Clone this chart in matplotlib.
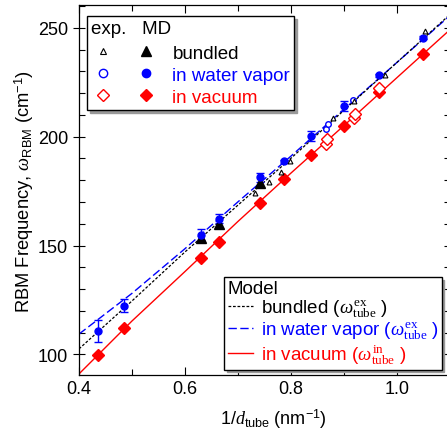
import matplotlib
matplotlib.use("Agg")
import matplotlib.pyplot as plt
from matplotlib.lines import Line2D
from matplotlib.legend_handler import HandlerTuple
from matplotlib.ticker import MultipleLocator

plt.rcParams['font.family'] = ['Liberation Sans', 'DejaVu Sans']
plt.rcParams['mathtext.fontset'] = 'custom'
plt.rcParams['mathtext.rm'] = 'Liberation Sans'
plt.rcParams['mathtext.it'] = 'Liberation Serif:italic'
plt.rcParams['mathtext.tt'] = 'Liberation Serif'

# ---- data ----
model_x = [0.40, 0.50, 0.60, 0.70, 0.80, 0.90, 1.00, 1.10]
model_bundled = [102.5, 124.5, 147.0, 168.5, 190.0, 212.0, 234.0, 256.0]
model_water = [109.3, 128.0, 148.5, 170.0, 191.0, 212.5, 234.0, 255.5]
model_vacuum = [91.0, 115.3, 138.0, 161.0, 183.2, 205.0, 227.0, 249.0]

md_x = [0.435, 0.485, 0.630, 0.664, 0.742, 0.788, 0.839, 0.900, 0.967, 1.050]
md_vacuum = [99.7, 112.1, 144.1, 151.7, 169.5, 180.5, 191.6, 205.1, 220.6, 237.9]
md_water = [110.8, 122.3, 154.9, 162.4, 181.3, 188.6, 200.2, 213.9, 228.2, 245.5]
md_water_err = [5.2, 3.0, 2.5, 2.0, 2.0, 0.8, 2.3, 2.3, 0.8, 0.8]

md_bundled_x = [0.630, 0.664, 0.742]
md_bundled = [153.3, 159.8, 178.5]

exp_bundled_x = [0.732, 0.759, 0.781, 0.798, 0.880, 0.920, 0.978, 1.053]
exp_bundled = [174.1, 179.0, 183.6, 188.9, 208.8, 216.6, 228.2, 248.6]
exp_water_x = [0.867, 0.871, 0.918, 0.966]
exp_water = [203.4, 205.7, 216.8, 228.5]
exp_vacuum_x = [0.866, 0.868, 0.919, 0.921, 0.967]
exp_vacuum = [196.5, 199.0, 208.6, 210.4, 222.3]

fig = plt.figure(figsize=(4.47, 4.31), dpi=100)
ax = fig.add_axes([79 / 447, 55 / 431, 370.6 / 447, 370 / 431])

# model curves
ax.plot(model_x, model_water, color='blue', lw=1.0, ls=(0, (6, 2.5)), zorder=2)
ax.plot(model_x, model_bundled, color='black', lw=0.9, ls=(0, (2.2, 1.4)), zorder=2)
ax.plot(model_x, model_vacuum, color='red', lw=1.0, ls='-', zorder=2)

# MD
ax.plot(md_x, md_vacuum, 'D', color='red', ms=6, zorder=3)
ax.errorbar(md_x, md_water, yerr=md_water_err, fmt='o', color='blue', ms=5,
            capsize=3, elinewidth=1, capthick=1, zorder=4)
ax.plot(md_bundled_x, md_bundled, '^', color='black', ms=6.5, zorder=4)

# experiments
ax.plot(exp_vacuum_x, exp_vacuum, 'D', mfc='white', mec='red', mew=1, ms=6, zorder=3)
ax.plot(exp_water_x, exp_water, 'o', mfc='white', mec='blue', mew=1, ms=4, zorder=4)
ax.plot(exp_bundled_x, exp_bundled, '^', mfc='white', mec='black', mew=0.8, ms=3.5, zorder=5)

ax.set_xlim(0.4, 1.1)
ax.set_ylim(90.5, 260.5)
ax.xaxis.set_major_locator(MultipleLocator(0.2))
ax.xaxis.set_minor_locator(MultipleLocator(0.1))
ax.yaxis.set_major_locator(MultipleLocator(50))
ax.yaxis.set_minor_locator(MultipleLocator(10))
ax.xaxis.set_major_formatter(matplotlib.ticker.FormatStrFormatter('%.1f'))
ax.tick_params(which='both', direction='in', top=True, right=True, labelsize=13)
ax.tick_params(which='major', length=6, width=0.8)
ax.tick_params(which='minor', length=4, width=0.8)
ax.tick_params(axis='y', which='major', direction='inout', length=9)
for s in ax.spines.values():
    s.set_linewidth(0.9)

ax.set_xlabel(r"1/$d_{\mathrm{tube}}$ (nm$^{-1}$)", fontsize=13)
ax.xaxis.set_label_coords(0.525, -0.086)
ax.set_ylabel(r"RBM Frequency, $\omega_{\mathrm{RBM}}$ (cm$^{-1}$)", fontsize=13.2, labelpad=1)

# legend 1
h_open_b = Line2D([], [], ls='none', marker='^', mfc='white', mec='black', mew=0.8, ms=4)
h_fill_b = Line2D([], [], ls='none', marker='^', color='black', ms=7)
h_open_w = Line2D([], [], ls='none', marker='o', mfc='white', mec='blue', mew=1, ms=6)
h_fill_w = Line2D([], [], ls='none', marker='o', color='blue', ms=6)
h_open_v = Line2D([], [], ls='none', marker='D', mfc='white', mec='red', mew=1, ms=6)
h_fill_v = Line2D([], [], ls='none', marker='D', color='red', ms=6)
leg1 = ax.legend([(h_open_b, h_fill_b), (h_open_w, h_fill_w), (h_open_v, h_fill_v)],
                 ['bundled', 'in water vapor', 'in vacuum'],
                 handler_map={tuple: HandlerTuple(ndivide=None, pad=0.9)},
                 loc='upper left', bbox_to_anchor=(0.0216, 0.970), borderaxespad=0,
                 fontsize=13.5, title='exp.   MD', title_fontsize=13.5, alignment='left',
                 handlelength=3.6, handletextpad=0.75, labelspacing=0.27, borderpad=0.2,
                 fancybox=False, edgecolor='black', framealpha=1,
                 shadow={'color': '0.6', 'alpha': 1})
leg1._legend_box.sep = 5.5
leg1.get_frame().set_linewidth(1.0)
for t, c in zip(leg1.get_texts(), ['black', 'blue', 'red']):
    t.set_color(c)
ax.add_artist(leg1)

# legend 2
m1 = Line2D([], [], color='black', lw=0.9, ls=(0, (2.2, 1.4)))
m2 = Line2D([], [], color='blue', lw=1.0, ls=(0, (6, 2.5)))
m3 = Line2D([], [], color='red', lw=1.0)
leg2 = ax.legend([m1, m2, m3],
                 [r"bundled ($\omega^{\mathtt{ex}}_{\mathtt{tube}}$ )",
                  r"in water vapor ($\omega^{\mathtt{ex}}_{\mathtt{tube}}$ )",
                  r"in vacuum ($\omega^{\mathtt{in}}_{\mathtt{tube}}$ )"],
                 loc='lower right', bbox_to_anchor=(0.9787, 0.0143), borderaxespad=0,
                 fontsize=13.5, title='Model', title_fontsize=13.5, alignment='left',
                 handlelength=1.35, handletextpad=0.4, labelspacing=0.02, borderpad=0.18,
                 fancybox=False, edgecolor='black', framealpha=1,
                 shadow={'color': '0.6', 'alpha': 1})
leg2.get_frame().set_linewidth(1.0)
for t, c in zip(leg2.get_texts(), ['black', 'blue', 'red']):
    t.set_color(c)

fig.savefig('out.png', dpi=100)
